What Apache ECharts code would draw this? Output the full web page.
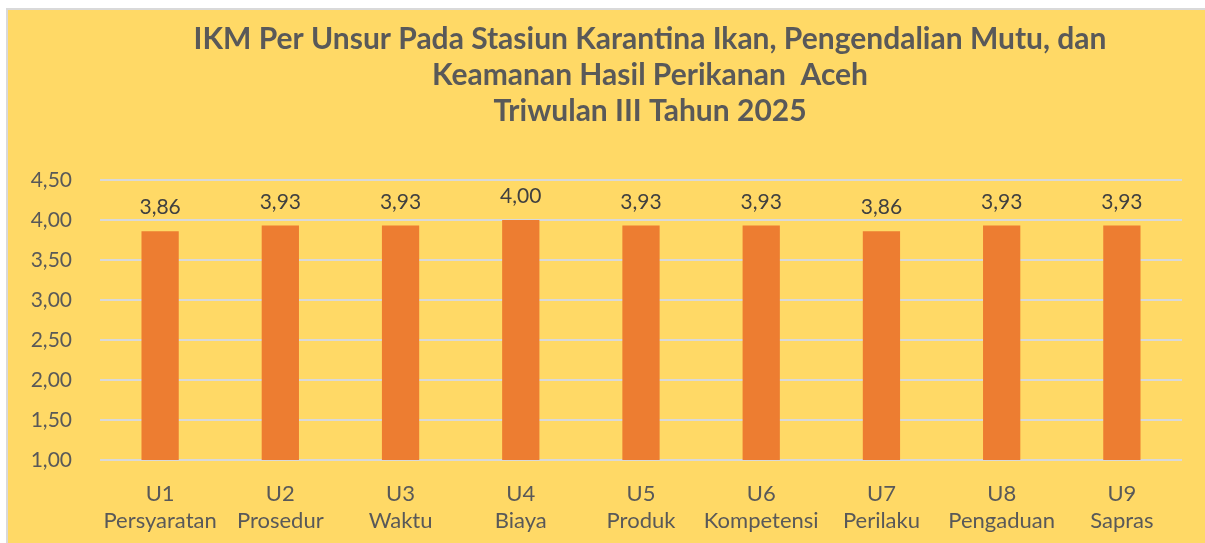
<!DOCTYPE html>
<html>
<head>
<meta charset="utf-8">
<script src="https://cdn.jsdelivr.net/npm/echarts@6/dist/echarts.min.js"></script>
<style>
  html, body { margin: 0; padding: 0; background: #ffffff; overflow: hidden; }
  #chart {
    position: absolute; left: 6px; top: 8px;
    width: 1205px; height: 540px;
    border: 2px solid #d9d9d9;
    background: #ffd966;
  }
</style>
</head>
<body>
<div id="chart"></div>
<script>
const titleLines = [
  'IKM Per Unsur Pada Stasiun Karantina Ikan, Pengendalian Mutu, dan',
  'Keamanan Hasil Perikanan  Aceh',
  'Triwulan III Tahun 2025'
];
const codes = ['U1', 'U2', 'U3', 'U4', 'U5', 'U6', 'U7', 'U8', 'U9'];
const names = ['Persyaratan', 'Prosedur', 'Waktu', 'Biaya', 'Produk', 'Kompetensi', 'Perilaku', 'Pengaduan', 'Sapras'];
const values = [3.86, 3.93, 3.93, 4.00, 3.93, 3.93, 3.86, 3.93, 3.93];
const yMin = 1, yMax = 4.5, yStep = 0.5;

const fmt = v => v.toFixed(2).replace('.', ',');
const font = 'Lato, "Open Sans", sans-serif';

const chart = echarts.init(document.getElementById('chart'));
chart.setOption({
  animation: false,
  textStyle: { fontFamily: font },
  title: {
    text: titleLines.join('\n'),
    left: 637,
    top: 6,
    textAlign: 'center',
    textStyle: { fontFamily: font, fontSize: 30, fontWeight: 'bold', color: '#595959', lineHeight: 36 }
  },
  grid: { left: 92, top: 170, width: 1082, height: 280 },
  xAxis: {
    type: 'category',
    data: codes.map((c, i) => c + '\n' + names[i]),
    axisLine: { show: false },
    axisTick: { show: false },
    axisLabel: { color: '#595959', fontSize: 22, lineHeight: 27, margin: 20, interval: 0 }
  },
  yAxis: {
    type: 'value',
    min: yMin, max: yMax, interval: yStep,
    axisLine: { show: false },
    axisTick: { show: false },
    axisLabel: { color: '#595959', fontSize: 21, margin: 28, formatter: fmt },
    splitLine: { lineStyle: { color: '#d9d9d9', width: 2 } }
  },
  series: [{
    type: 'bar',
    data: values,
    barWidth: '31%',
    itemStyle: { color: '#ed7d31' },
    label: {
      show: true, position: 'top', distance: 13,
      color: '#404040', fontSize: 21,
      formatter: p => fmt(p.value)
    }
  }]
});
</script>
</body>
</html>
